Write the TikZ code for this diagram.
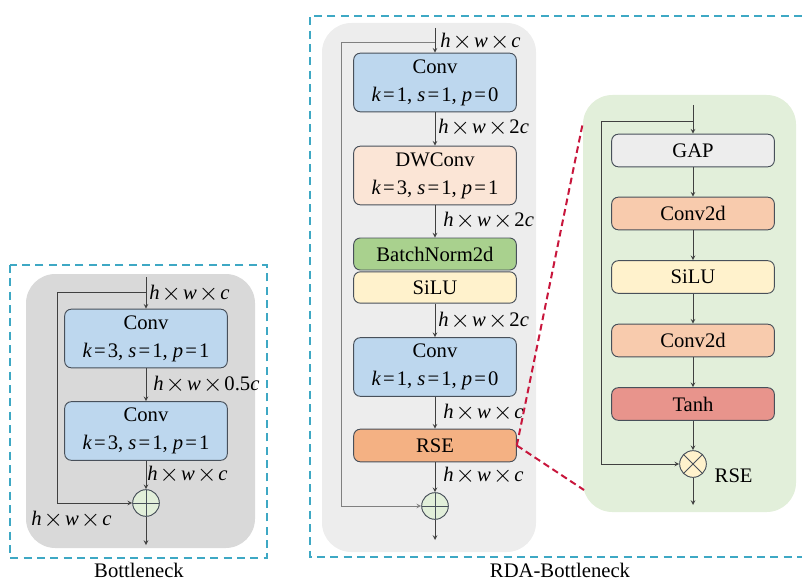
\documentclass[tikz,border=0pt]{standalone}
\usepackage{fontspec}
\setmainfont{Liberation Serif}
\definecolor{framecol}{RGB}{62,168,196}
\definecolor{linkcol}{RGB}{200,22,60}
\definecolor{boxedge}{RGB}{72,80,90}
\definecolor{flowcol}{RGB}{64,64,64}
\definecolor{bgdark}{RGB}{217,217,217}
\definecolor{bglight}{RGB}{237,237,237}
\definecolor{bggreen}{RGB}{226,239,218}
\definecolor{convblue}{RGB}{189,215,238}
\definecolor{dwpeach}{RGB}{251,229,214}
\definecolor{bngreen}{RGB}{169,209,142}
\definecolor{siluyel}{RGB}{255,242,204}
\definecolor{rseorange}{RGB}{244,177,131}
\definecolor{c2dorange}{RGB}{248,203,173}
\definecolor{tanhred}{RGB}{232,148,140}
\definecolor{gapgray}{RGB}{237,237,237}
\newcommand{\bigx}{\hspace{.1em}\raisebox{-.1ex}{\scalebox{1.3}{$\times$}}\hspace{.1em}}
\newcommand{\hwc}[1]{\textit{h}\bigx\textit{w}\bigx#1}
\newcommand{\ksp}[3]{\textit{k}\hspace{.1em}=\hspace{.1em}#1, \textit{s}\hspace{.1em}=\hspace{.1em}#2, \textit{p}\hspace{.1em}=\hspace{.1em}#3}
\begin{document}
\begin{tikzpicture}[x=0.75pt,y=-0.75pt,
  font=\fontsize{15.5}{21}\selectfont,
  blk/.style={draw=boxedge,line width=0.7pt,rounded corners=5pt,minimum width=122pt,align=center,inner sep=1pt},
  tall/.style={blk,minimum height=44pt},
  flat/.style={blk,minimum height=24.5pt},
  lbl/.style={anchor=west,inner sep=0pt},
  frame/.style={draw=framecol,dash pattern=on 6pt off 4pt,line width=1.3pt},
  link/.style={draw=linkcol,dash pattern=on 5pt off 3pt,line width=1.5pt},
  flow/.style={draw=flowcol,line width=0.6pt,-stealth},
  sum/.style={circle,draw=boxedge,line width=0.7pt,minimum size=20pt,inner sep=0pt,
    path picture={\draw[boxedge,line width=0.7pt] (path picture bounding box.north) -- (path picture bounding box.south)
      (path picture bounding box.west) -- (path picture bounding box.east);}},
  mul/.style={circle,draw=boxedge,line width=0.7pt,minimum size=20pt,inner sep=0pt,fill=siluyel,
    path picture={\draw[boxedge,line width=0.7pt] (path picture bounding box.north west) -- (path picture bounding box.south east)
      (path picture bounding box.south west) -- (path picture bounding box.north east);}}]
  \useasboundingbox (0,0) rectangle (802,581);

  \draw[frame] (10,265) rectangle (267,558);
  \fill[bgdark,rounded corners=22pt] (26,274) rectangle (255,548);
  \node at (139,570) {Bottleneck};
  \coordinate (bin) at (146,277);
  \coordinate (bsplit) at (146,292);
  \node[tall,fill=convblue] (bconv1) at (146,338.5) {Conv\\\ksp{3}{1}{1}};
  \node[tall,fill=convblue] (bconv2) at (146,431) {Conv\\\ksp{3}{1}{1}};
  \node[sum,fill=bggreen] (badd) at (146,503) {};
  \coordinate (bout) at (146,545);
  \draw[flow] (bin) -- (bconv1);
  \draw[flow] (bconv1) -- (bconv2);
  \draw[flow] (bconv2) -- (badd);
  \draw[flow] (badd) -- (bout);
  \draw[flow] (bsplit) -- (57,292) |- (badd);
  \node[lbl] at (149,294) {\hwc{\textit{c}}};
  \node[lbl] at (153,385) {\hwc{0.5\textit{c}}};
  \node[lbl] at (147,475) {\hwc{\textit{c}}};
  \node[lbl] at (31,520) {\hwc{\textit{c}}};

  \draw[frame] (802,16) -- (310,16) -- (310,557) -- (802,557);
  \fill[bglight,rounded corners=22pt] (322,23) rectangle (536,552);
  \node at (560,570) {RDA-Bottleneck};
  \coordinate (rin) at (435,28);
  \coordinate (rsplit) at (435,42);
  \node[tall,fill=convblue] (rconv1) at (435,82.5) {Conv\\\ksp{1}{1}{0}};
  \node[tall,fill=dwpeach] (rdw) at (435,175.5) {DWConv\\\ksp{3}{1}{1}};
  \node[flat,minimum height=24pt,fill=bngreen] (rbn) at (435,254) {BatchNorm2d};
  \node[flat,minimum height=23.5pt,fill=siluyel] (rsilu) at (435,287.5) {SiLU};
  \node[tall,fill=convblue] (rconv2) at (435,367) {Conv\\\ksp{1}{1}{0}};
  \node[flat,fill=rseorange] (rse) at (435,445.5) {RSE};
  \node[sum,fill=bggreen] (radd) at (435,506) {};
  \coordinate (rout) at (435,540);
  \draw[flow] (rin) -- (rconv1);
  \draw[flow] (rconv1) -- (rdw);
  \draw[flow] (rdw) -- (rbn);
  \draw[flow] (rsilu) -- (rconv2);
  \draw[flow] (rconv2) -- (rse);
  \draw[flow] (rse) -- (radd);
  \draw[flow] (radd) -- (rout);
  \draw[flow,draw=gray] (rsplit) -- (341,42) |- (radd);
  \node[lbl] at (440,42) {\hwc{\textit{c}}};
  \node[lbl] at (438,128) {\hwc{2\textit{c}}};
  \node[lbl] at (443,221) {\hwc{2\textit{c}}};
  \node[lbl] at (438,321) {\hwc{2\textit{c}}};
  \node[lbl] at (443,413) {\hwc{\textit{c}}};
  \node[lbl] at (443,476) {\hwc{\textit{c}}};

  \fill[bggreen,rounded corners=22pt] (583,95) rectangle (796,512);
  \coordinate (ein) at (693,105);
  \coordinate (esplit) at (693,121);
  \node[flat,fill=gapgray] (egap) at (693,150.5) {GAP};
  \node[flat,fill=c2dorange] (ec1) at (693,213.5) {Conv2d};
  \node[flat,fill=siluyel] (esilu) at (693,277) {SiLU};
  \node[flat,fill=c2dorange] (ec2) at (693,340.5) {Conv2d};
  \node[flat,fill=tanhred] (etanh) at (693,404) {Tanh};
  \node[mul] (emul) at (693,464) {};
  \node[anchor=west] at (710,476) {RSE};
  \coordinate (eout) at (693,505);
  \draw[flow] (ein) -- (egap);
  \draw[flow] (egap) -- (ec1);
  \draw[flow] (ec1) -- (esilu);
  \draw[flow] (esilu) -- (ec2);
  \draw[flow] (ec2) -- (etanh);
  \draw[flow] (etanh) -- (emul);
  \draw[flow] (emul) -- (eout);
  \draw[flow] (esplit) -- (601,121) |- (emul);

  \coordinate (etop) at (583,122);
  \coordinate (ebot) at (584,490);
  \draw[link] (rse.east) -- (etop);
  \draw[link] (rse.east) -- (ebot);
\end{tikzpicture}
\end{document}
